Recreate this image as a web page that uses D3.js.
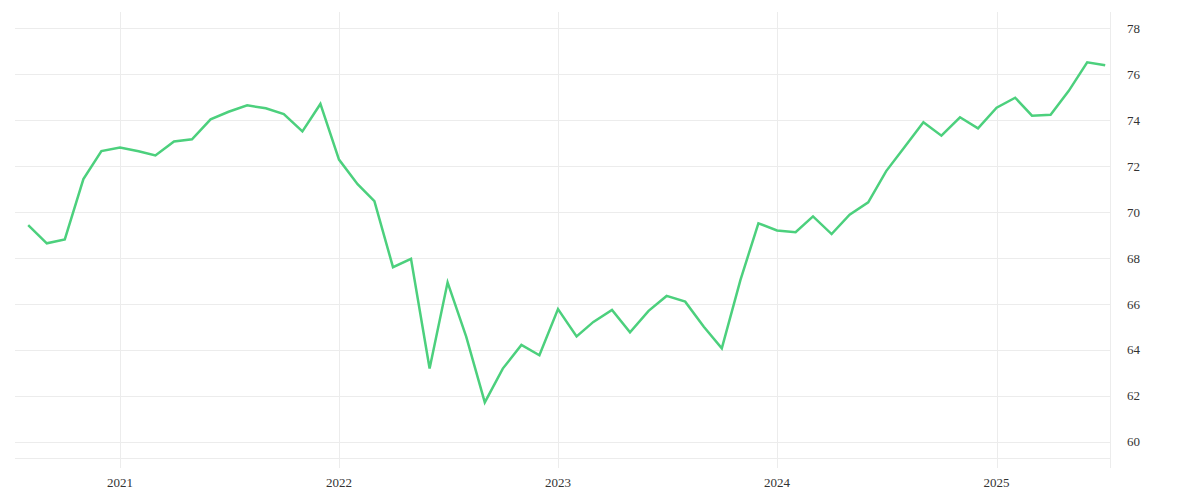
<!DOCTYPE html>
<html>
<head>
<meta charset="utf-8">
<script src="https://cdn.jsdelivr.net/npm/d3@7"></script>
<style>
  body { margin: 0; background: #fff; }
  #chart text { font-family: "Liberation Serif", "DejaVu Serif", serif; font-size: 13px; fill: #333; }
</style>
</head>
<body>
<div id="chart"></div>
<script>
// monthly series, Aug 2020 .. Jul 2025
const startMonth = "2020-08";
const values = [
    69.43, 68.64, 68.81, 71.43, 72.65,
    72.81, 72.64, 72.46, 73.07, 73.16, 74.03, 74.36, 74.64, 74.51, 74.26, 73.51, 74.70,
    72.28, 71.21, 70.47, 67.60, 67.96, 63.19, 66.94, 64.58, 61.72, 63.19, 64.22, 63.77,
    65.78, 64.59, 65.22, 65.74, 64.77, 65.70, 66.35, 66.10, 65.01, 64.07, 67.04, 69.51,
    69.20, 69.12, 69.81, 69.04, 69.88, 70.42, 71.78, 72.84, 73.90, 73.32, 74.12, 73.64,
    74.54, 74.97, 74.19, 74.23, 75.26, 76.51, 76.38
];
const yTicks = [60, 62, 64, 66, 68, 70, 72, 74, 76, 78];
const xTickYears = [2021, 2022, 2023, 2024, 2025];

const width = 1200, height = 500;
const margin = {top: 12, right: 90, bottom: 42, left: 15};

const parseMonth = d3.timeParse("%Y-%m");
const first = parseMonth(startMonth);
const data = values.map((v, i) => ({date: d3.timeMonth.offset(first, i), value: v}));

const svg = d3.select("#chart").append("svg")
    .attr("width", width)
    .attr("height", height);

const x = d3.scaleTime()
    .domain([d3.timeDay.offset(first, -22), d3.timeDay.offset(data[data.length - 1].date, 8)])
    .range([margin.left, width - margin.right]);

const y = d3.scaleLinear()
    .domain([59.3, 78.7])
    .range([height - margin.bottom, margin.top]);

const grid = svg.append("g").attr("stroke", "#ececec").attr("stroke-width", 1);

// horizontal grid
grid.selectAll("line.h").data(yTicks).join("line")
    .attr("class", "h")
    .attr("x1", margin.left).attr("x2", width - margin.right)
    .attr("y1", d => Math.round(y(d)) + 0.5).attr("y2", d => Math.round(y(d)) + 0.5);

// bottom border of plot
grid.append("line")
    .attr("x1", margin.left).attr("x2", width - margin.right)
    .attr("y1", height - margin.bottom + 0.5).attr("y2", height - margin.bottom + 0.5);

// vertical grid at years
const yearDates = xTickYears.map(yr => new Date(yr, 0, 1));
grid.selectAll("line.v").data(yearDates).join("line")
    .attr("class", "v")
    .attr("x1", d => Math.round(x(d)) + 0.5).attr("x2", d => Math.round(x(d)) + 0.5)
    .attr("y1", margin.top).attr("y2", height - margin.bottom + 10);

// right axis line
grid.append("line")
    .attr("x1", width - margin.right + 0.5).attr("x2", width - margin.right + 0.5)
    .attr("y1", margin.top).attr("y2", height - margin.bottom + 10);

// y labels (right)
svg.append("g").selectAll("text").data(yTicks).join("text")
    .attr("x", width - margin.right + 17)
    .attr("y", d => y(d))
    .attr("dy", "0.35em")
    .text(d => d);

// x labels
svg.append("g").selectAll("text").data(yearDates).join("text")
    .attr("x", d => x(d))
    .attr("y", height - margin.bottom + 29)
    .attr("text-anchor", "middle")
    .text(d => d3.timeFormat("%Y")(d));

// the series
const line = d3.line()
    .x(d => x(d.date))
    .y(d => y(d.value));

svg.append("path")
    .datum(data)
    .attr("fill", "none")
    .attr("stroke", "#4cd07d")
    .attr("stroke-width", 2.5)
    .attr("stroke-linejoin", "miter")
    .attr("d", line);
</script>
</body>
</html>
